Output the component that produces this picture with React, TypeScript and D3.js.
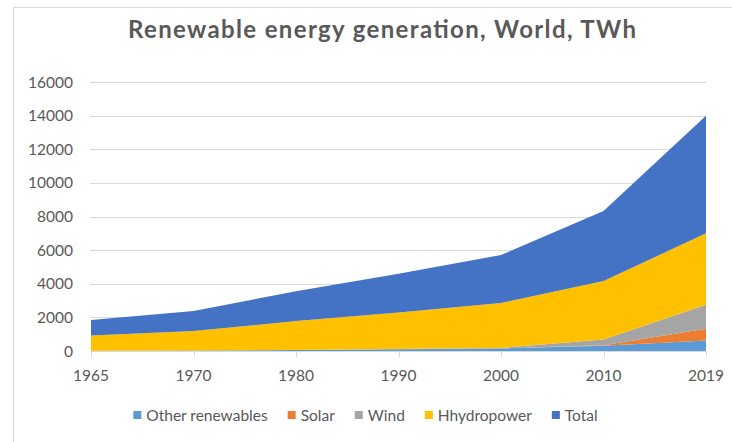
import React, { useEffect, useRef } from "react";
import * as d3 from "d3";

// World renewable electricity generation by source, TWh
const years = ["1965", "1970", "1980", "1990", "2000", "2010", "2019"];
const otherRenewables = [20, 30, 60, 110, 150, 310, 630];
const solar = [0, 0, 0, 0, 1, 32, 700];
const wind = [0, 0, 0, 4, 31, 340, 1420];
const hydropower = [905, 1160, 1720, 2180, 2670, 3480, 4250];
const total = [925, 1190, 1780, 2294, 2852, 4162, 7000];

const yTicks = [0, 2000, 4000, 6000, 8000, 10000, 12000, 14000, 16000];
const seriesKeys = ["other", "solar", "wind", "hydro", "total"];
const seriesLabels = ["Other renewables", "Solar", "Wind", "Hhydropower", "Total"];
const seriesColors = ["#5B9BD5", "#ED7D31", "#A5A5A5", "#FFC000", "#4472C4"];

const W = 732;
const H = 442;
const FONT = "Lato, 'Open Sans', sans-serif";
const TEXT = "#595959";

export default function App() {
  const ref = useRef<SVGSVGElement | null>(null);

  useEffect(() => {
    const svg = d3.select(ref.current);
    svg.selectAll("*").remove();

    const plot = { left: 91, right: 706, top: 82, bottom: 351 };

    // chart frame
    svg.append("path")
      .attr("d", `M13.5,${H} V7.5 H${W}`)
      .attr("fill", "none")
      .attr("stroke", "#d9d9d9")
      .attr("stroke-width", 1);

    svg.append("text")
      .attr("x", 382)
      .attr("y", 38)
      .attr("text-anchor", "middle")
      .attr("font-family", FONT)
      .attr("font-weight", 700)
      .attr("font-size", 24)
      .attr("textLength", 508)
      .attr("lengthAdjust", "spacing")
      .attr("fill", TEXT)
      .text("Renewable energy generation, World, TWh");

    const x = d3.scalePoint<string>().domain(years).range([plot.left, plot.right]);
    const y = d3.scaleLinear().domain([0, 16000]).range([plot.bottom, plot.top]);

    // gridlines and y labels
    svg.append("g")
      .selectAll("line")
      .data(yTicks.filter((t) => t > 0))
      .join("line")
      .attr("x1", plot.left - 1)
      .attr("x2", plot.right)
      .attr("y1", (d) => Math.round(y(d)) + 0.5)
      .attr("y2", (d) => Math.round(y(d)) + 0.5)
      .attr("stroke", "#d9d9d9")
      .attr("stroke-width", 1);

    svg.append("g")
      .selectAll("text")
      .data(yTicks)
      .join("text")
      .attr("x", 73)
      .attr("y", (d) => y(d))
      .attr("dy", "0.36em")
      .attr("text-anchor", "end")
      .attr("font-family", FONT)
      .attr("font-size", 15.5)
      .attr("fill", TEXT)
      .text((d) => String(d));

    // stacked areas
    const rows = years.map((yr, i) => ({
      year: yr,
      other: otherRenewables[i],
      solar: solar[i],
      wind: wind[i],
      hydro: hydropower[i],
      total: total[i],
    }));
    const stacked = d3.stack<any>().keys(seriesKeys)(rows);
    const area = d3.area<any>()
      .x((d) => x(d.data.year) as number)
      .y0((d) => y(d[0]))
      .y1((d) => y(d[1]));

    svg.append("g")
      .selectAll("path")
      .data(stacked)
      .join("path")
      .attr("d", (d) => area(d) as string)
      .attr("fill", (_, i) => seriesColors[i]);

    // category axis
    svg.append("line")
      .attr("x1", plot.left - 1)
      .attr("x2", plot.right)
      .attr("y1", plot.bottom + 0.5)
      .attr("y2", plot.bottom + 0.5)
      .attr("stroke", "#d9d9d9");

    svg.append("g")
      .selectAll("line")
      .data(years)
      .join("line")
      .attr("x1", (d) => Math.round(x(d) as number) + 0.5)
      .attr("x2", (d) => Math.round(x(d) as number) + 0.5)
      .attr("y1", plot.bottom)
      .attr("y2", plot.bottom + 6)
      .attr("stroke", "#d9d9d9");

    svg.append("g")
      .selectAll("text")
      .data(years)
      .join("text")
      .attr("x", (d) => x(d) as number)
      .attr("y", 375)
      .attr("dy", "0.36em")
      .attr("text-anchor", "middle")
      .attr("font-family", FONT)
      .attr("font-size", 15.5)
      .attr("fill", TEXT)
      .text((d) => d);

    // legend, laid out from measured label widths and centred
    const legend = svg.append("g");
    const items = seriesLabels.map((label, i) => {
      const g = legend.append("g");
      g.append("rect")
        .attr("width", 8)
        .attr("height", 8)
        .attr("y", -4)
        .attr("fill", seriesColors[i]);
      const t = g.append("text")
        .attr("x", 13)
        .attr("dy", "0.36em")
        .attr("font-family", FONT)
        .attr("font-size", 15.5)
        .attr("fill", TEXT)
        .text(label);
      const w = (t.node() as SVGTextElement).getComputedTextLength();
      return { g, width: 13 + w };
    });
    const gap = 20;
    const span = d3.sum(items, (d) => d.width) + gap * (items.length - 1);
    let cx = 365.5 - span / 2;
    items.forEach((it) => {
      it.g.attr("transform", `translate(${cx},415)`);
      cx += it.width + gap;
    });
  }, []);

  return (
    <svg
      ref={ref}
      width={W}
      height={H}
      style={{ position: "absolute", left: 0, top: 0, background: "#fff" }}
    />
  );
}
